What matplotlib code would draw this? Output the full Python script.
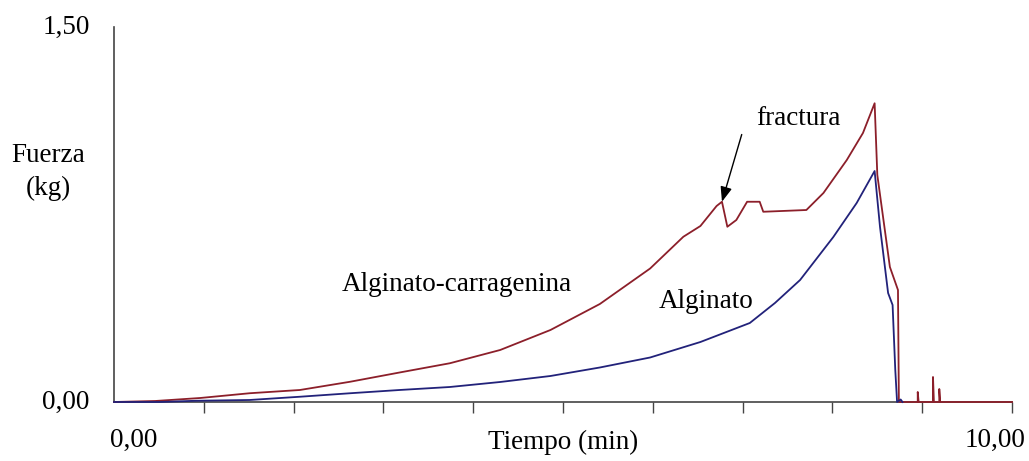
import matplotlib.pyplot as plt

plt.rcParams['font.family'] = ['Liberation Serif', 'DejaVu Serif']

# --- Data (time in min, force in kg) ---
t_carr = [0.00, 0.46, 0.96, 1.51, 2.07, 2.63, 3.18, 3.74, 4.30, 4.86, 5.41, 5.97,
          6.34, 6.53, 6.71, 6.77, 6.83, 6.93, 7.05, 7.19, 7.23, 7.71, 7.90, 8.16,
          8.34, 8.47, 8.50, 8.64, 8.73, 8.74, 8.95, 8.95, 8.96, 9.12, 9.12, 9.13,
          9.19, 9.19, 9.20, 10.00]
f_carr = [0.000, 0.004, 0.016, 0.035, 0.048, 0.081, 0.118, 0.155, 0.208, 0.288, 0.392, 0.534,
          0.661, 0.704, 0.784, 0.801, 0.701, 0.728, 0.801, 0.801, 0.761, 0.768, 0.836, 0.968,
          1.076, 1.195, 0.908, 0.540, 0.448, 0.000, 0.000, 0.040, 0.000, 0.000, 0.100, 0.000,
          0.000, 0.052, 0.000, 0.000]

t_alg = [0.00, 0.51, 0.92, 1.51, 2.07, 2.63, 3.18, 3.74, 4.30, 4.86, 5.41, 5.97,
         6.53, 7.08, 7.36, 7.64, 8.01, 8.27, 8.47, 8.53, 8.62, 8.67, 8.70, 8.72,
         8.76, 8.78]
f_alg = [0.000, 0.000, 0.005, 0.008, 0.021, 0.035, 0.048, 0.060, 0.080, 0.104, 0.138, 0.178,
         0.240, 0.316, 0.396, 0.488, 0.660, 0.796, 0.924, 0.700, 0.436, 0.388, 0.128, 0.000,
         0.010, 0.000]

fracture_pt = (6.77, 0.801)

x_ticks = [1, 2, 3, 4, 5, 6, 7, 8, 9, 10]

red = '#8c1f2a'
blue = '#22227a'
axis_col = '#444444'

fig = plt.figure(figsize=(10.29, 4.61), dpi=100)
ax = fig.add_axes([0.1108, 0.128, 0.8727, 0.8134])

ax.plot(t_carr, f_carr, color=red, lw=1.3, clip_on=False, zorder=3)
ax.plot(t_alg, f_alg, color=blue, lw=1.3, clip_on=False, zorder=3)

ax.set_xlim(0, 10)
ax.set_ylim(0, 1.5)

for s in ['top', 'right']:
    ax.spines[s].set_visible(False)
for s in ['left', 'bottom']:
    ax.spines[s].set_color(axis_col)
    ax.spines[s].set_linewidth(1.2)

ax.set_xticks(x_ticks)
ax.set_xticklabels([])
ax.set_yticks([])
ax.tick_params(axis='x', direction='out', length=8, width=1.0, color=axis_col)

fs = 19.5
ax.text(0.22, -0.152, '0,00', fontsize=fs, ha='center', va='center', clip_on=False)
ax.text(9.81, -0.152, '10,00', fontsize=fs, ha='center', va='center', clip_on=False)
ax.text(5.0, -0.162, 'Tiempo (min)', fontsize=fs, ha='center', va='center', clip_on=False)
ax.text(-0.27, 1.5, '1,50', fontsize=fs, ha='right', va='center', clip_on=False)
ax.text(-0.27, 0.0, '0,00', fontsize=fs, ha='right', va='center', clip_on=False)
ax.text(-0.735, 0.988, 'Fuerza', fontsize=fs, ha='center', va='center', clip_on=False)
ax.text(-0.735, 0.856, '(kg)', fontsize=fs, ha='center', va='center', clip_on=False)

ax.text(3.82, 0.468, 'Alginato-carragenina', fontsize=fs, ha='center', va='center')
ax.text(6.59, 0.40, 'Alginato', fontsize=fs, ha='center', va='center')
ax.text(7.62, 1.136, 'fractura', fontsize=fs, ha='center', va='center')

ax.annotate('', xy=fracture_pt, xytext=(6.99, 1.07),
            arrowprops=dict(arrowstyle='-|>,head_length=0.9,head_width=0.35',
                            color='black', lw=1.0, shrinkA=0, shrinkB=0))

fig.savefig('out.png', dpi=100)
